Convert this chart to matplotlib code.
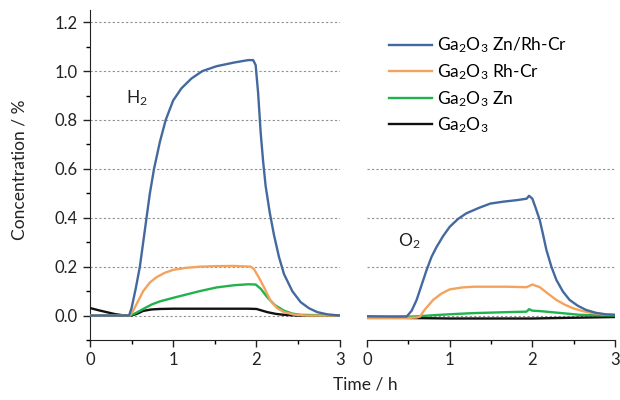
import numpy as np
import matplotlib
matplotlib.use("Agg")
import matplotlib.pyplot as plt
from matplotlib.ticker import MultipleLocator

plt.rcParams['font.family'] = ['Lato', 'DejaVu Sans']
plt.rcParams['mathtext.default'] = 'regular'

# H2 panel
h2_blue_t = [0, 0.47, 0.5, 0.55, 0.6, 0.64, 0.68, 0.72, 0.77, 0.84, 0.91, 1.0, 1.1, 1.22, 1.35, 1.52, 1.73, 1.9, 1.96, 1.99, 2.02, 2.05, 2.08, 2.11, 2.16, 2.21, 2.27, 2.33, 2.43, 2.53, 2.63, 2.73, 2.85, 3.0]
h2_blue_v = [0, 0, 0.03, 0.11, 0.2, 0.3, 0.4, 0.5, 0.6, 0.71, 0.8, 0.88, 0.93, 0.97, 1.0, 1.02, 1.035, 1.045, 1.045, 1.025, 0.91, 0.75, 0.63, 0.53, 0.42, 0.33, 0.24, 0.17, 0.1, 0.055, 0.03, 0.014, 0.005, 0]
h2_orange_t = [0, 0.48, 0.52, 0.58, 0.64, 0.72, 0.8, 0.9, 1.0, 1.15, 1.32, 1.5, 1.73, 1.93, 1.97, 2.03, 2.09, 2.17, 2.25, 2.33, 2.45, 2.6, 3.0]
h2_orange_v = [0, 0, 0.02, 0.06, 0.10, 0.135, 0.157, 0.175, 0.187, 0.195, 0.2, 0.202, 0.203, 0.2, 0.19, 0.155, 0.116, 0.06, 0.03, 0.014, 0.004, 0, 0]
h2_green_t = [0, 0.48, 0.55, 0.64, 0.74, 0.84, 0.94, 1.04, 1.18, 1.32, 1.52, 1.73, 1.9, 1.99, 2.05, 2.13, 2.22, 2.33, 2.43, 2.53, 3.0]
h2_green_v = [0, 0, 0.01, 0.027, 0.045, 0.058, 0.067, 0.076, 0.088, 0.1, 0.115, 0.124, 0.128, 0.127, 0.11, 0.075, 0.043, 0.02, 0.008, 0.003, 0]
h2_black_t = [0, 0.1, 0.2, 0.3, 0.4, 0.5, 0.57, 0.64, 0.74, 0.84, 1.0, 1.5, 1.9, 2.0, 2.07, 2.13, 2.23, 2.33, 2.5, 3.0]
h2_black_v = [0.031, 0.022, 0.014, 0.006, 0.001, 0, 0.008, 0.019, 0.025, 0.027, 0.028, 0.028, 0.028, 0.027, 0.02, 0.014, 0.007, 0.003, 0, 0]

# O2 panel
o2_blue_t = [0, 0.3, 0.48, 0.54, 0.6, 0.66, 0.72, 0.78, 0.84, 0.92, 1.0, 1.1, 1.2, 1.35, 1.49, 1.65, 1.81, 1.93, 1.96, 2.0, 2.04, 2.09, 2.13, 2.17, 2.23, 2.29, 2.37, 2.45, 2.55, 2.65, 2.77, 2.89, 3.0]
o2_blue_v = [-0.003, -0.004, -0.004, 0.02, 0.064, 0.125, 0.186, 0.24, 0.28, 0.325, 0.363, 0.395, 0.418, 0.44, 0.458, 0.466, 0.472, 0.478, 0.49, 0.478, 0.44, 0.39, 0.33, 0.268, 0.2, 0.146, 0.098, 0.064, 0.04, 0.023, 0.011, 0.005, 0.003]
o2_orange_t = [0, 0.4, 0.6, 0.64, 0.7, 0.8, 0.9, 1.0, 1.15, 1.29, 1.5, 1.69, 1.93, 2.0, 2.04, 2.09, 2.18, 2.29, 2.39, 2.49, 2.6, 2.73, 2.85, 3.0]
o2_orange_v = [-0.011, -0.011, -0.008, -0.004, 0.025, 0.064, 0.09, 0.107, 0.115, 0.118, 0.118, 0.118, 0.116, 0.127, 0.122, 0.116, 0.092, 0.064, 0.045, 0.03, 0.019, 0.01, 0.005, 0.003]
o2_green_t = [0, 0.3, 0.56, 0.7, 0.88, 1.1, 1.29, 1.5, 1.69, 1.93, 1.96, 2.0, 2.1, 2.29, 2.45, 2.57, 2.8, 3.0]
o2_green_v = [-0.005, -0.005, -0.004, -0.001, 0.003, 0.007, 0.01, 0.012, 0.014, 0.016, 0.026, 0.02, 0.018, 0.012, 0.007, 0.003, 0.001, 0]
o2_black_t = [0, 0.5, 1.0, 1.5, 2.0, 2.5, 3.0]
o2_black_v = [-0.006, -0.01, -0.012, -0.012, -0.012, -0.009, -0.006]

labels = [r'Ga$_2$O$_3$ Zn/Rh-Cr', r'Ga$_2$O$_3$ Rh-Cr', r'Ga$_2$O$_3$ Zn', r'Ga$_2$O$_3$']
colors = ['#44699e', '#f5a25d', '#21b24e', '#111111']

fig = plt.figure(figsize=(6.2, 4.0), dpi=100)
ax1 = fig.add_axes([0.145, 0.15, 0.403, 0.825])
ax2 = fig.add_axes([0.592, 0.15, 0.400, 0.825])

grid_kw = dict(color='#909090', linestyle=(0, (2, 2)), linewidth=0.8)

h2 = [(h2_blue_t, h2_blue_v), (h2_orange_t, h2_orange_v), (h2_green_t, h2_green_v), (h2_black_t, h2_black_v)]
o2 = [(o2_blue_t, o2_blue_v), (o2_orange_t, o2_orange_v), (o2_green_t, o2_green_v), (o2_black_t, o2_black_v)]

# black first, blue last on top
for i in [3, 2, 1, 0]:
    ax1.plot(h2[i][0], h2[i][1], color=colors[i], lw=1.7, label=labels[i], zorder=3 + (3 - i))
    ax2.plot(o2[i][0], o2[i][1], color=colors[i], lw=1.7, zorder=3 + (3 - i))

for ax in (ax1, ax2):
    ax.set_xlim(0, 3)
    ax.set_ylim(-0.1, 1.25)
    for s in ('top', 'right'):
        ax.spines[s].set_visible(False)
    ax.xaxis.set_major_locator(MultipleLocator(1))
    ax.xaxis.set_minor_locator(MultipleLocator(0.5))
    ax.tick_params(axis='x', which='major', direction='out', length=5, width=1, labelsize=12, colors='#222222')
    ax.tick_params(axis='x', which='minor', direction='out', length=3, width=1)
    ax.spines['bottom'].set_color('#222222')

ax1.set_yticks([0, 0.2, 0.4, 0.6, 0.8, 1.0, 1.2])
ax1.set_yticklabels(['0.0', '0.2', '0.4', '0.6', '0.8', '1.0', '1.2'])
ax1.yaxis.set_minor_locator(MultipleLocator(0.1))
ax1.tick_params(axis='y', which='major', direction='out', length=5, width=1, labelsize=12, colors='#222222')
ax1.tick_params(axis='y', which='minor', direction='out', length=3, width=1)
ax1.spines['left'].set_color('#222222')
for yv in [0, 0.2, 0.4, 0.6, 0.8, 1.0, 1.2]:
    ax1.axhline(yv, zorder=1, **grid_kw)

ax2.spines['left'].set_visible(False)
ax2.set_yticks([])
for yv in [0, 0.2, 0.4, 0.6]:
    ax2.axhline(yv, zorder=1, **grid_kw)

ax1.text(0.43, 0.87, r'H$_2$', fontsize=12.5, color='#222222')
ax2.text(0.38, 0.285, r'O$_2$', fontsize=12.5, color='#222222')

handles, labs = ax1.get_legend_handles_labels()
fig.legend(handles[::-1], labs[::-1], loc='upper left', bbox_to_anchor=(0.602, 0.95),
           frameon=False, fontsize=12.5, handlelength=2.5, labelspacing=0.4, handletextpad=0.3)

fig.text(0.032, 0.575, 'Concentration / %', rotation=90, ha='center', va='center', fontsize=12.5, color='#222222')
fig.text(0.589, 0.04, 'Time / h', ha='center', va='center', fontsize=12.5, color='#222222')

fig.savefig('out.png', dpi=100)
